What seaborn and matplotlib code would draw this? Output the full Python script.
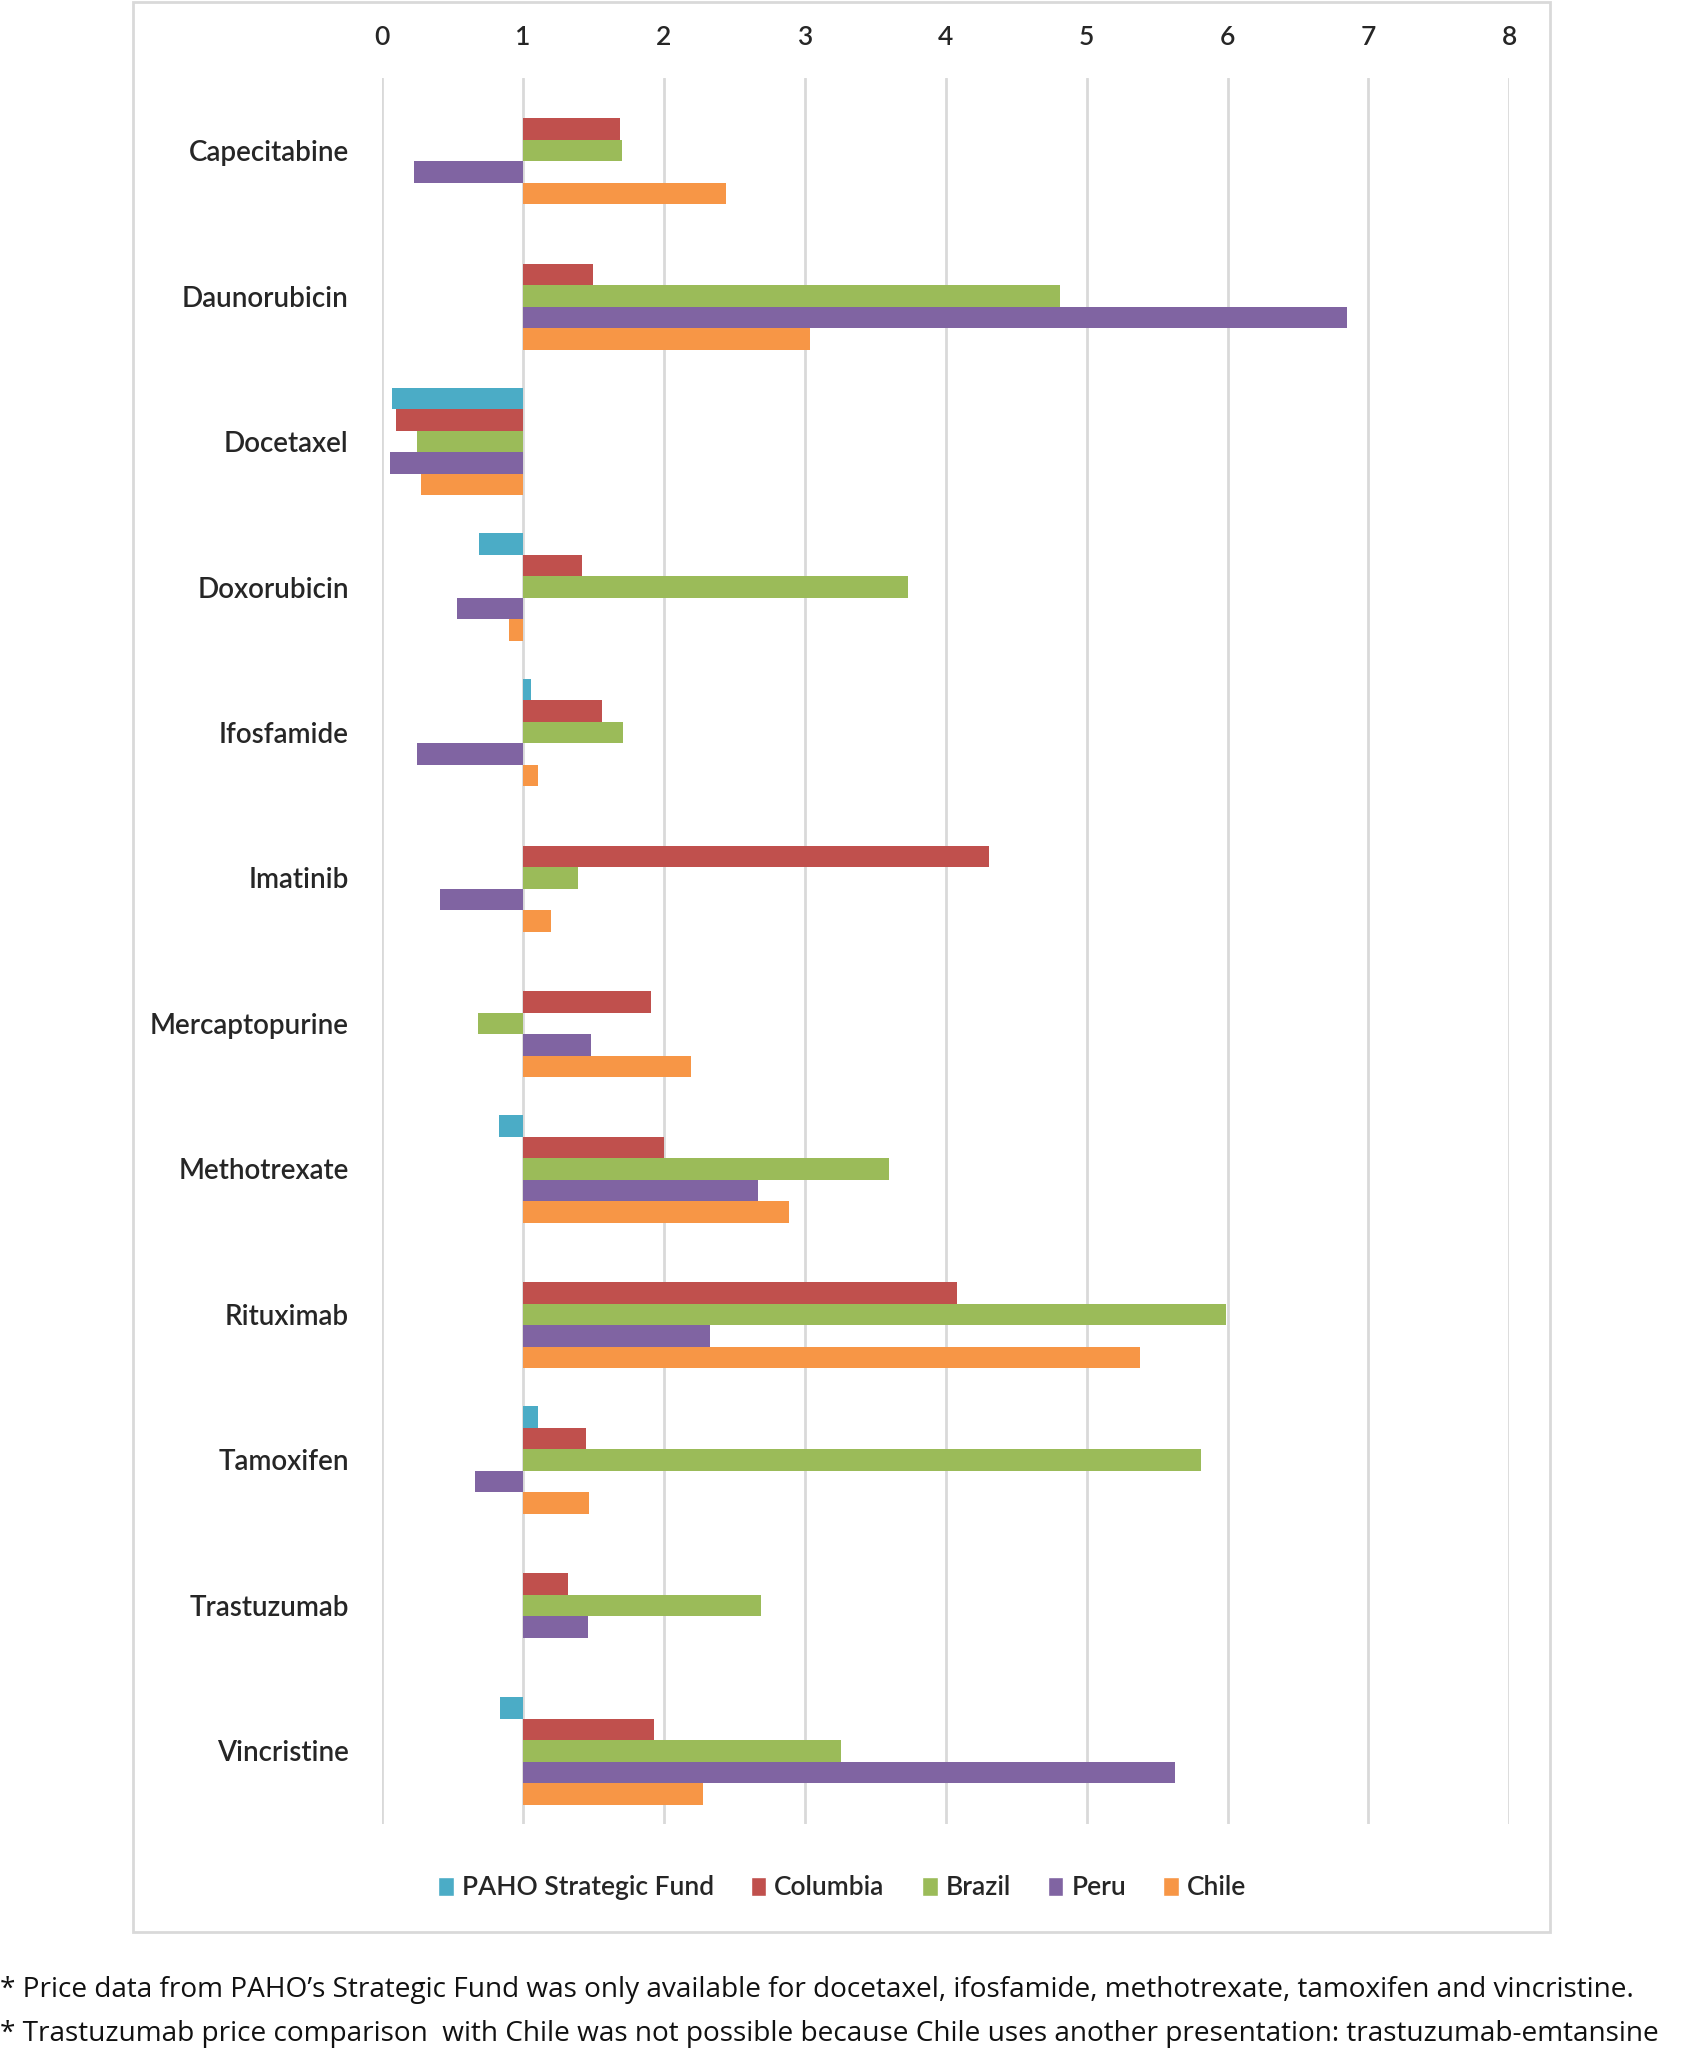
import numpy as np
import pandas as pd
import seaborn as sns
import matplotlib.pyplot as plt
from matplotlib.patches import Patch, Rectangle

# Price ratio vs. reference (1 = same price)
drugs = ["Capecitabine", "Daunorubicin", "Docetaxel", "Doxorubicin", "Ifosfamide", "Imatinib",
         "Mercaptopurine", "Methotrexate", "Rituximab", "Tamoxifen", "Trastuzumab", "Vincristine"]
countries = ["PAHO Strategic Fund", "Columbia", "Brazil", "Peru", "Chile"]
paho = [np.nan, np.nan, 0.07, 0.69, 1.06, np.nan, np.nan, 0.83, np.nan, 1.11, np.nan, 0.84]
columbia = [1.69, 1.50, 0.10, 1.42, 1.56, 4.31, 1.91, 2.00, 4.08, 1.45, 1.32, 1.93]
brazil = [1.70, 4.81, 0.25, 3.73, 1.71, 1.39, 0.68, 3.60, 5.99, 5.81, 2.69, 3.26]
peru = [0.23, 6.85, 0.06, 0.53, 0.25, 0.41, 1.48, 2.67, 2.33, 0.66, 1.46, 5.63]
chile = [2.44, 3.04, 0.28, 0.90, 1.11, 1.20, 2.19, 2.89, 5.38, 1.47, np.nan, 2.28]
colors = ["#4BACC6", "#C0504D", "#9BBB59", "#8064A2", "#F79646"]

footnotes = [
    "* Price data from PAHO\u2019s Strategic Fund was only available for docetaxel, ifosfamide, methotrexate, tamoxifen and vincristine.",
    "* Trastuzumab price comparison  with Chile was not possible because Chile uses another presentation: trastuzumab-emtansine",
]

# long format; bars start at 1, so plot the deviation from 1
rows = []
for name, vals in zip(countries, [paho, columbia, brazil, peru, chile]):
    for d, v in zip(drugs, vals):
        if not np.isnan(v):
            rows.append({"drug": d, "country": name, "ratio": v})
df = pd.DataFrame(rows)
df["dev"] = df["ratio"] - 1

sns.set_style("white")
plt.rcParams["font.family"] = ["Lato", "DejaVu Sans"]

fig = plt.figure(figsize=(16.94, 20.49), dpi=100)
ax = fig.add_axes([0.2255, 0.110, 0.6655, 0.852])

sns.barplot(data=df, y="drug", x="dev", hue="country", order=drugs, hue_order=countries,
            palette=colors, orient="h", width=0.74, legend=False, saturation=1,
            linewidth=0, ax=ax)

ax.set_xlim(-1, 7)
ax.set_ylim(len(drugs) - 0.5, -0.5)
ticks = np.arange(0, 9)
ax.set_xticks(ticks - 1)
ax.set_xticklabels([str(t) for t in ticks], fontsize=19, fontweight="semibold")
ax.xaxis.tick_top()
ax.tick_params(axis="x", length=0, pad=20)
ax.tick_params(axis="y", length=0, pad=24)
for lab in ax.get_yticklabels():
    lab.set_fontsize(20)
    lab.set_fontweight("semibold")
ax.grid(axis="x", color="#D9D9D9", lw=2)
ax.set_axisbelow(True)
for s in ax.spines.values():
    s.set_visible(False)
ax.set_xlabel("")
ax.set_ylabel("")

handles = [Patch(facecolor=c, label=n) for c, n in zip(colors, countries)]
fig.legend(handles=handles, loc="center", bbox_to_anchor=(0.497, 0.0786), ncol=5,
           frameon=False, handlelength=0.6, handleheight=0.75,
           handletextpad=0.3, columnspacing=1.4,
           prop={"family": ["Lato", "DejaVu Sans"], "size": 19, "weight": "semibold"})

# chart frame
fig.patches.append(Rectangle((0.0785, 0.057), 0.8365, 0.942, transform=fig.transFigure,
                             fill=False, edgecolor="#D9D9D9", lw=2))

fig.text(0.0, 1 - 1990 / 2049, footnotes[0], fontsize=20.2, family=["Open Sans", "DejaVu Sans"],
         va="center", ha="left", color="#111111")
fig.text(0.0, 1 - 2034 / 2049, footnotes[1], fontsize=20.2, family=["Open Sans", "DejaVu Sans"],
         va="center", ha="left", color="#111111")

fig.savefig("out.png", dpi=100)
